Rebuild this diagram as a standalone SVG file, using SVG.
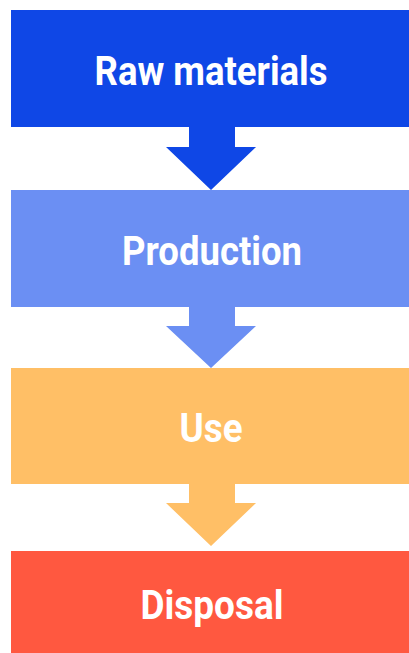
<svg xmlns="http://www.w3.org/2000/svg" width="409" height="653" viewBox="0 0 409 653">
<style>
.lbl{font-family:Roboto,"Liberation Sans",sans-serif;font-weight:bold;font-size:40px;fill:#fff;text-anchor:middle}
</style>
<rect width="409" height="653" fill="#fff"/>
<g id="connectors">
<polygon points="189,126 235,126 235,147 256,147 211,190 166,147 189,147" fill="#0F47E6"/>
<polygon points="189,306 235,306 235,326 256,326 211,368 166,326 189,326" fill="#6B8FF3"/>
<polygon points="189,483 235,483 235,503 256,503 211,546 166,503 189,503" fill="#FFBF66"/>
</g>
<g id="raw">
<rect x="11" y="10" width="398" height="117" fill="#0F47E6"/>
<text class="lbl" x="211" y="85" textLength="233" lengthAdjust="spacingAndGlyphs">Raw materials</text>
</g>
<g id="production">
<rect x="11" y="190" width="398" height="117" fill="#6B8FF3"/>
<text class="lbl" x="212" y="265" textLength="180" lengthAdjust="spacingAndGlyphs">Production</text>
</g>
<g id="use">
<rect x="11" y="368" width="398" height="116" fill="#FFBF66"/>
<text class="lbl" x="211" y="442" textLength="63" lengthAdjust="spacingAndGlyphs">Use</text>
</g>
<g id="disposal">
<rect x="11" y="551" width="398" height="102" fill="#FF5840"/>
<text class="lbl" x="212" y="619" textLength="143" lengthAdjust="spacingAndGlyphs">Disposal</text>
</g>
</svg>
